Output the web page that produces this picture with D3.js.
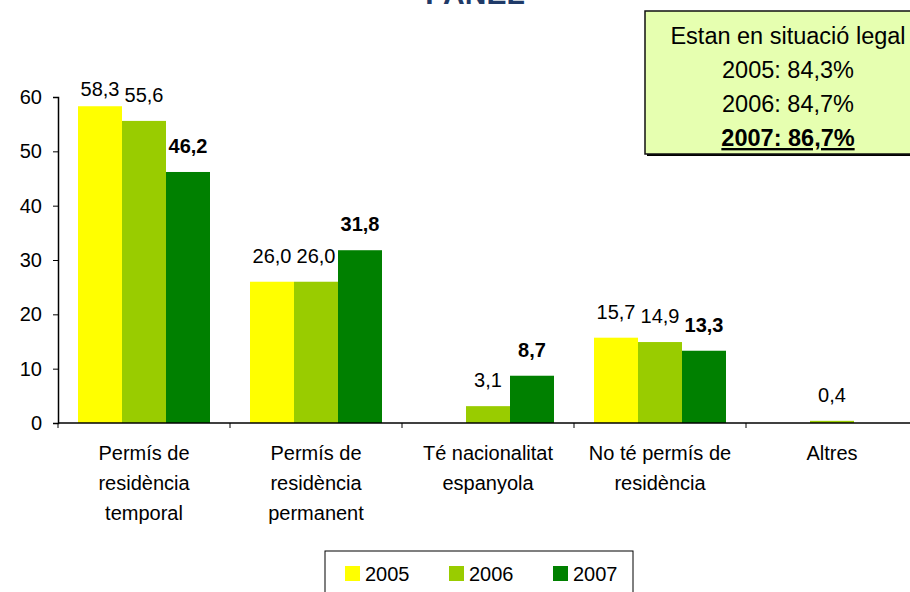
<!DOCTYPE html>
<html>
<head>
<meta charset="utf-8">
<script src="https://cdn.jsdelivr.net/npm/d3@7"></script>
<style>
  body { margin: 0; background: #fff; }
  text { font-family: "Liberation Sans", Arial, sans-serif; }
</style>
</head>
<body>
<div id="wrapper"></div>
<script>
// Data
const categories = [
  ['Permís de', 'residència', 'temporal'],
  ['Permís de', 'residència', 'permanent'],
  ['Té nacionalitat', 'espanyola'],
  ['No té permís de', 'residència'],
  ['Altres'],
]
const years = ['2005', '2006', '2007']
const values2005 = [58.3, 26.0, null, 15.7, null]
const values2006 = [55.6, 26.0, 3.1, 14.9, 0.4]
const values2007 = [46.2, 31.8, 8.7, 13.3, null]
const yTicks = [0, 10, 20, 30, 40, 50, 60]
const boxLines = ['Estan en situació legal', '2005: 84,3%', '2006: 84,7%', '2007: 86,7%']
const colors = ['#ffff00', '#99cc00', '#008000']

function drawChart() {
  const dimensions = {
    width: 910,
    height: 592,
    margin: { top: 97, right: -8, bottom: 169, left: 58 },
  }
  dimensions.boundedWidth = dimensions.width - dimensions.margin.left - dimensions.margin.right
  dimensions.boundedHeight = dimensions.height - dimensions.margin.top - dimensions.margin.bottom

  const wrapper = d3.select('#wrapper')
    .append('svg')
      .attr('width', dimensions.width)
      .attr('height', dimensions.height)

  // Title (mostly cut off at the top, as in the original)
  wrapper.append('text')
    .attr('x', 475)
    .attr('y', 4)
    .attr('text-anchor', 'middle')
    .attr('font-size', 30)
    .attr('font-weight', 'bold')
    .attr('fill', '#1f3a68')
    .text('PANEL')

  const bounds = wrapper.append('g')
    .attr('transform', `translate(${dimensions.margin.left},${dimensions.margin.top})`)

  // Scales
  const catIndex = d3.range(categories.length)
  const xScale = d3.scaleBand()
    .domain(catIndex)
    .range([0, dimensions.boundedWidth])
  const innerScale = d3.scaleBand()
    .domain(years)
    .range([20, xScale.bandwidth() - 20])
  const yScale = d3.scaleLinear()
    .domain([0, 60])
    .range([dimensions.boundedHeight, 0])

  // Bars
  const series = [values2005, values2006, values2007]
  const barData = []
  series.forEach((vals, s) => {
    vals.forEach((v, i) => {
      if (v !== null) barData.push({ cat: i, year: years[s], s: s, value: v })
    })
  })

  bounds.selectAll('rect.bar')
    .data(barData)
    .join('rect')
      .attr('class', 'bar')
      .attr('x', d => xScale(d.cat) + innerScale(d.year))
      .attr('width', innerScale.bandwidth())
      .attr('y', d => yScale(d.value))
      .attr('height', d => yScale(0) - yScale(d.value))
      .attr('fill', d => colors[d.s])

  // Value labels
  const fmt = v => d3.format('.1f')(v).replace('.', ',')
  bounds.selectAll('text.val')
    .data(barData)
    .join('text')
      .attr('class', 'val')
      .attr('x', d => xScale(d.cat) + innerScale(d.year) + innerScale.bandwidth() / 2)
      .attr('y', d => Math.max(yScale(d.value) - 19, -1))
      .attr('text-anchor', 'middle')
      .attr('font-size', 20)
      .attr('font-weight', d => d.s === 2 ? 'bold' : 'normal')
      .attr('fill', '#000')
      .text(d => fmt(d.value))

  // Y axis
  const yAxisGenerator = d3.axisLeft()
    .scale(yScale)
    .tickValues(yTicks)
    .tickSize(5)
    .tickPadding(11)
  const yAxis = bounds.append('g')
    .call(yAxisGenerator)
  yAxis.select('.domain').attr('stroke', '#000').attr('stroke-width', 1.5)
  yAxis.selectAll('.tick line').attr('stroke', '#000')
  yAxis.selectAll('.tick text')
    .attr('font-size', 20)
    .attr('font-family', '"Liberation Sans", Arial, sans-serif')
    .attr('fill', '#000')

  // X axis
  const xAxis = bounds.append('g')
    .attr('transform', `translate(0,${dimensions.boundedHeight})`)
  xAxis.append('line')
    .attr('x1', 0)
    .attr('x2', dimensions.boundedWidth)
    .attr('stroke', '#000')
    .attr('stroke-width', 1.5)
  xAxis.selectAll('line.tick')
    .data(d3.range(categories.length + 1))
    .join('line')
      .attr('class', 'tick')
      .attr('x1', i => i * xScale.step())
      .attr('x2', i => i * xScale.step())
      .attr('y1', 0)
      .attr('y2', 5)
      .attr('stroke', '#000')

  const catLabels = xAxis.selectAll('text.cat')
    .data(catIndex)
    .join('text')
      .attr('class', 'cat')
      .attr('text-anchor', 'middle')
      .attr('font-size', 20)
      .attr('fill', '#000')
  catLabels.selectAll('tspan')
    .data(i => categories[i].map(t => ({ i, t })))
    .join('tspan')
      .attr('x', d => xScale(d.i) + xScale.bandwidth() / 2)
      .attr('y', (d, k) => 37 + k * 30)
      .text(d => d.t)

  // Legend
  const legend = wrapper.append('g')
    .attr('transform', 'translate(325,551)')
  legend.append('rect')
    .attr('width', 308)
    .attr('height', 50)
    .attr('fill', '#fff')
    .attr('stroke', '#000')
    .attr('stroke-width', 1)
  const legendX = [20, 124, 228]
  const items = legend.selectAll('g.item')
    .data(years)
    .join('g')
      .attr('class', 'item')
      .attr('transform', (d, i) => `translate(${legendX[i]},15)`)
  items.append('rect')
    .attr('width', 15)
    .attr('height', 15)
    .attr('fill', (d, i) => colors[i])
  items.append('text')
    .attr('x', 20)
    .attr('y', 15)
    .attr('font-size', 20)
    .attr('fill', '#000')
    .text(d => d)

  // Info box
  const box = wrapper.append('g')
    .attr('transform', 'translate(645,11)')
  box.append('rect')
    .attr('x', 2)
    .attr('y', 2)
    .attr('width', 290)
    .attr('height', 143)
    .attr('fill', '#000')
  box.append('rect')
    .attr('width', 290)
    .attr('height', 143)
    .attr('fill', '#e6ffb0')
    .attr('stroke', '#111')
    .attr('stroke-width', 1.5)
  box.selectAll('text')
    .data(boxLines)
    .join('text')
      .attr('x', 143)
      .attr('y', (d, i) => 33 + i * 34)
      .attr('text-anchor', 'middle')
      .attr('font-size', 23.5)
      .attr('font-weight', (d, i) => i === 3 ? 'bold' : 'normal')
      .attr('text-decoration', (d, i) => i === 3 ? 'underline' : 'none')
      .attr('fill', '#000')
      .text(d => d)
}
drawChart()
</script>
</body>
</html>
